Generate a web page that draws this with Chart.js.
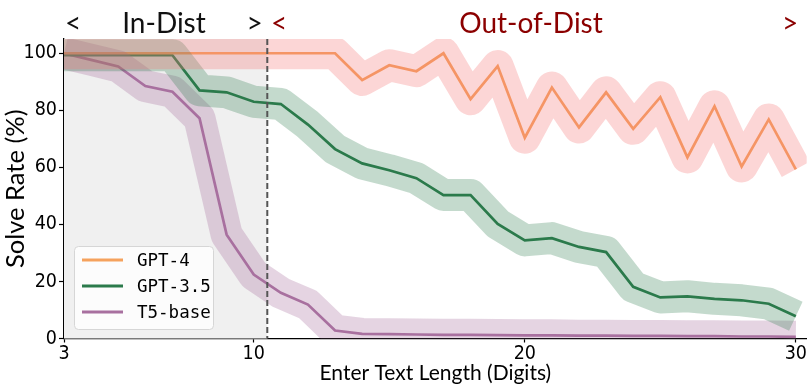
<!DOCTYPE html>
<html>
<head>
<meta charset="utf-8">
<script src="https://cdn.jsdelivr.net/npm/chart.js@4.4.0/dist/chart.umd.min.js"></script>
<style>
  body { margin: 0; background: #fff; }
  #wrap { width: 807px; height: 390px; position: relative; }
</style>
</head>
<body>
<div id="wrap"><canvas id="solve_graph"></canvas></div>
<script>
var ctx = document.getElementById('solve_graph').getContext('2d');

// text length in digits
let lengths = [3, 4, 5, 6, 7, 8, 9, 10, 11, 12, 13, 14, 15, 16, 17, 18, 19, 20, 21, 22, 23, 24, 25, 26, 27, 28, 29, 30];
let gpt4 = [100, 100, 100, 100, 100, 100, 100, 100, 100, 100, 100, 90.6, 95.8, 93.7, 100, 83.9, 95.5, 70.4, 88, 74, 86.3, 73.5, 84.6, 63.5, 81.4, 60.3, 76.8, 59.3];
let gpt35 = [99.3, 99.3, 99.3, 99.3, 99.3, 87, 86.3, 83, 82.2, 75, 66.4, 61.4, 59, 56.2, 50.3, 50.3, 40.2, 34.4, 35.2, 32.1, 30.3, 18.1, 14.4, 14.8, 13.9, 13.4, 12.2, 7.8];
let t5base = [100, 97.7, 95.4, 88.5, 86.5, 77.2, 36.4, 22.4, 16, 11.9, 2.8, 1.6, 1.5, 1.4, 1.3, 1.3, 1.2, 1.1, 1.1, 1, 1, 0.9, 0.9, 0.8, 0.8, 0.7, 0.7, 0.6];

let model_names = ['GPT-4', 'GPT-3.5', 'T5-base'];
let x_ticks = [3, 10, 20, 30];
let y_ticks = [0, 20, 40, 60, 80, 100];
let in_dist_end = 10.5;

let line_colors = ['#f5a25d', '#2b7a4b', '#a8709f'];
let band_colors = ['rgba(245,120,120,0.3)', 'rgba(43,122,75,0.28)', 'rgba(168,112,159,0.3)'];

let to_points = (vals) => vals.map((v, i) => ({'x': lengths[i], 'y': v}));

let series = [gpt4, gpt35, t5base];
let datasets = [];
// thick faded bands first
series.forEach((vals, i) => {
    datasets.push({
        label: 'band',
        data: to_points(vals),
        borderColor: band_colors[i],
        borderWidth: 32,
        borderJoinStyle: 'round',
        borderCapStyle: 'butt',
        pointRadius: 0,
        fill: false,
        clip: 0
    });
});
// then the actual lines
series.forEach((vals, i) => {
    datasets.push({
        label: model_names[i],
        data: to_points(vals),
        borderColor: line_colors[i],
        borderWidth: 2.7,
        pointRadius: 0,
        fill: false,
        clip: 0
    });
});

const tick_font = {family: '"Liberation Sans Narrow", "DejaVu Sans Condensed", sans-serif', size: 19.5};
const label_font = {family: 'Lato, "Open Sans", sans-serif', size: 21};
const y_label_font = {family: 'Lato, "Open Sans", sans-serif', size: 25.5};

let region_plugin = {
    id: 'regions',
    beforeDatasetsDraw(chart) {
        let c = chart.ctx, a = chart.chartArea, xs = chart.scales.x;
        c.save();
        c.fillStyle = '#f0f0f0';
        let x0 = xs.getPixelForValue(lengths[0]);
        let x1 = xs.getPixelForValue(in_dist_end);
        c.fillRect(x0, a.top, x1 - x0, a.bottom - a.top);
        c.restore();
    },
    afterDatasetsDraw(chart) {
        let c = chart.ctx, a = chart.chartArea, xs = chart.scales.x;
        let xp = xs.getPixelForValue(in_dist_end);
        c.save();
        c.strokeStyle = '#555';
        c.lineWidth = 2;
        c.setLineDash([6, 3]);
        c.beginPath();
        c.moveTo(xp, a.top);
        c.lineTo(xp, a.bottom);
        c.stroke();
        c.restore();
    },
    afterDraw(chart) {
        let c = chart.ctx;
        c.save();
        // top labels
        c.font = '28px Lato, "Open Sans", sans-serif';
        c.textBaseline = 'alphabetic';
        c.textAlign = 'center';
        c.fillStyle = '#111';
        c.fillText('<', 73, 33);
        c.fillText('In-Dist', 164, 33);
        c.fillText('>', 254.5, 33);
        c.fillStyle = '#8b0000';
        c.fillText('<', 279, 33);
        c.fillText('Out-of-Dist', 531, 33);
        c.fillText('>', 790, 33);

        // legend
        c.beginPath();
        c.roundRect(74.5, 246.5, 139, 83, 4);
        c.fillStyle = 'rgba(255,255,255,0.8)';
        c.fill();
        c.strokeStyle = '#d6d6d6';
        c.lineWidth = 1;
        c.stroke();
        c.font = '17.5px "DejaVu Sans Mono", monospace';
        c.textAlign = 'left';
        c.textBaseline = 'middle';
        model_names.forEach((name, i) => {
            let y = 260 + i * 26;
            c.strokeStyle = line_colors[i];
            c.lineWidth = 3;
            c.beginPath();
            c.moveTo(82, y);
            c.lineTo(123, y);
            c.stroke();
            c.fillStyle = '#000';
            c.fillText(name, 137, y + 1);
        });
        c.restore();
    }
};

var solve_graph = new Chart(ctx, {
    type: 'line',
    data: {
        datasets: datasets
    },
    plugins: [region_plugin],
    options: {
        responsive: true,
        maintainAspectRatio: false,
        animation: false,
        events: [],
        layout: {
            padding: {top: 39, right: 0, left: 0, bottom: 0}
        },
        plugins: {
            legend: {display: false},
            tooltip: {enabled: false}
        },
        scales: {
            x: {
                type: 'linear',
                min: 3,
                max: 30.4,
                afterBuildTicks: (s) => { s.ticks = x_ticks.map(v => ({value: v})); },
                afterFit: (s) => { s.height = 51.5; },
                grid: {drawOnChartArea: false, drawTicks: true, tickLength: 4, tickColor: '#000', tickWidth: 1.2},
                border: {color: '#000', width: 1.3},
                ticks: {color: '#000', font: tick_font, padding: 0, maxRotation: 0, autoSkip: false},
                title: {display: true, text: 'Enter Text Length (Digits)', color: '#000', font: label_font, padding: {top: 0, bottom: 4}}
            },
            y: {
                min: 0,
                max: 105,
                afterBuildTicks: (s) => { s.ticks = y_ticks.map(v => ({value: v})); },
                afterFit: (s) => { s.width = 64; },
                grid: {drawOnChartArea: false, drawTicks: true, tickLength: 5, tickColor: '#000', tickWidth: 1.2},
                border: {color: '#000', width: 1.3},
                ticks: {color: '#000', font: tick_font, padding: 2},
                title: {display: true, text: 'Solve Rate (%)', color: '#000', font: y_label_font, padding: {top: 0, bottom: 0}}
            }
        }
    }
});
</script>
</body>
</html>
